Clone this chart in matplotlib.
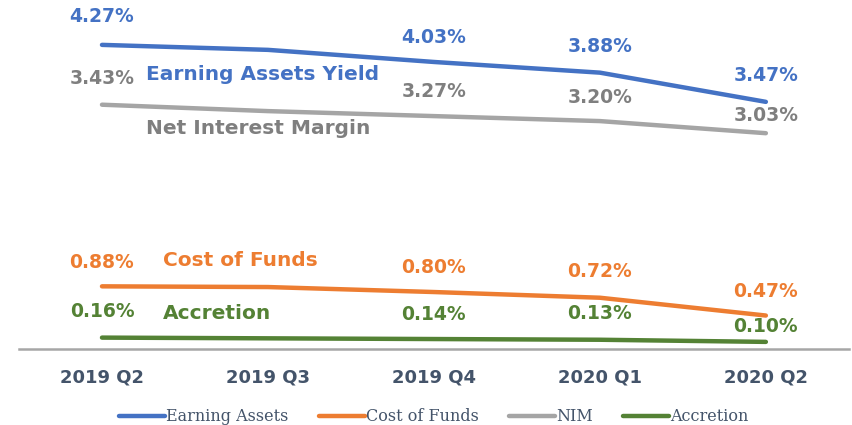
import numpy as np
import matplotlib.pyplot as plt

quarters = ['2019 Q2', '2019 Q3', '2019 Q4', '2020 Q1', '2020 Q2']
earning_assets = [4.27, 4.20, 4.03, 3.88, 3.47]
cost_of_funds = [0.88, 0.87, 0.80, 0.72, 0.47]
nim = [3.43, 3.34, 3.27, 3.20, 3.03]
accretion = [0.16, 0.15, 0.14, 0.13, 0.10]

# which points get a value label (2019 Q3 has none)
labelled = [0, 2, 3, 4]

fig = plt.figure(figsize=(8.52, 4.25), dpi=100)
ax = fig.add_axes([0.0223, 0.1788, 0.974, 0.8212])

x = np.arange(len(quarters))
blue = '#4472C4'
orange = '#ED7D31'
grey = '#A5A5A5'
green = '#548235'

ax.plot(x, earning_assets, color=blue, lw=3.2, solid_capstyle='round', label='Earning Assets')
ax.plot(x, cost_of_funds, color=orange, lw=3.2, solid_capstyle='round', label='Cost of Funds')
ax.plot(x, nim, color=grey, lw=3.2, solid_capstyle='round', label='NIM')
ax.plot(x, accretion, color=green, lw=3.2, solid_capstyle='round', label='Accretion')

ax.set_xlim(-0.5, 4.5)
ax.set_ylim(0, 4.9)

def put_labels(vals, col, lift):
    for i in labelled:
        ax.annotate(f'{vals[i]:.2f}%', (x[i], vals[i]), xytext=(0, lift[i]),
                    textcoords='offset pixels', ha='center', va='center',
                    color=col, fontsize=13.5, fontweight='bold')

put_labels(earning_assets, blue, [28, 0, 24, 26, 26])
put_labels(nim, '#7F7F7F', [26, 0, 25, 24, 18])
put_labels(cost_of_funds, orange, [24, 0, 25, 26, 24])
put_labels(accretion, green, [26, 0, 25, 26, 15])

ax.text(0.265, 3.85, 'Earning Assets Yield', color=blue, fontsize=14.5,
        fontweight='bold', va='center', ha='left')
ax.text(0.265, 3.09, 'Net Interest Margin', color='#7F7F7F', fontsize=14.5,
        fontweight='bold', va='center', ha='left')
ax.text(0.37, 1.245, 'Cost of Funds', color=orange, fontsize=14.5,
        fontweight='bold', va='center', ha='left')
ax.text(0.37, 0.50, 'Accretion', color=green, fontsize=14.5,
        fontweight='bold', va='center', ha='left')

for s in ['top', 'left', 'right']:
    ax.spines[s].set_visible(False)
ax.spines['bottom'].set_color('#A6A6A6')
ax.spines['bottom'].set_linewidth(1.8)
ax.set_yticks([])
ax.set_xticks(x)
ax.set_xticklabels(quarters, fontsize=13, fontweight='bold', color='#44546A')
ax.tick_params(axis='x', length=0, pad=14)

leg = fig.legend(loc='center', bbox_to_anchor=(0.509, 0.019), ncol=4, frameon=False,
                 prop={'family': 'DejaVu Serif', 'size': 11.5},
                 handlelength=2.9, handletextpad=0.05, columnspacing=1.9)
for t in leg.get_texts():
    t.set_color('#44546A')

fig.savefig('out.png', dpi=100)
